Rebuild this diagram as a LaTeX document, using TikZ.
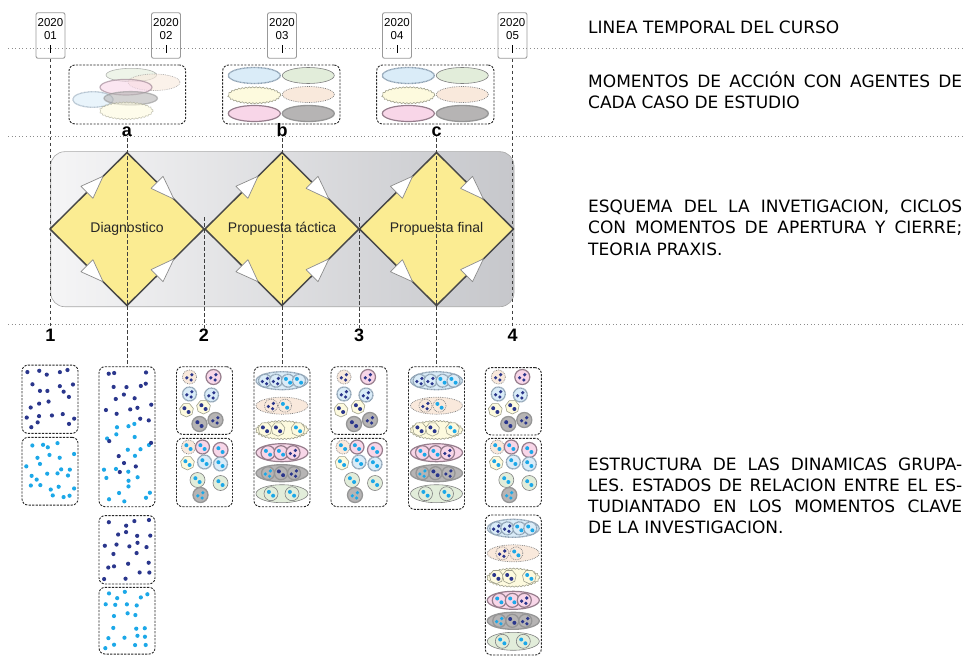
\documentclass[tikz,border=0pt]{standalone}
\usepackage{fontspec}
\setmainfont{Liberation Sans}
\newfontfamily\verd{DejaVu Sans}
\usetikzlibrary{calc,decorations.pathmorphing}

\definecolor{navyD}{RGB}{42,54,140}
\definecolor{cyanD}{RGB}{28,168,232}
\definecolor{dyel}{RGB}{251,236,146}
\definecolor{cblue}{RGB}{218,236,248}
\definecolor{cbluebd}{RGB}{140,160,178}
\definecolor{cgreen}{RGB}{226,237,218}
\definecolor{cyel}{RGB}{253,250,222}
\definecolor{cyelbd}{RGB}{160,160,140}
\definecolor{cpeach}{RGB}{249,233,220}
\definecolor{cpink}{RGB}{248,214,232}
\definecolor{cpinkbd}{RGB}{150,125,140}
\definecolor{cgray}{RGB}{182,180,180}
\definecolor{cgraybd}{RGB}{150,150,150}
\definecolor{bgL}{RGB}{245,245,246}
\definecolor{bgR}{RGB}{198,199,203}

\tikzset{
 sblue/.style={fill=cblue,draw=cbluebd,line width=1.3pt,dash pattern=on 0.9pt off 0.5pt},
 sgreen/.style={fill=cgreen,draw=black!50,line width=0.6pt},
 syel/.style={fill=cyel,draw=cyelbd,line width=0.6pt,decorate,decoration={snake,segment length=3.5pt,amplitude=0.6pt}},
 syelh/.style={fill=cyel,draw=cyelbd,line width=0.6pt,line join=round},
 speach/.style={fill=cpeach,draw=black!50,line width=0.7pt,dash pattern=on 0.8pt off 1pt},
 spink/.style={fill=cpink,draw=cpinkbd,line width=1.2pt},
 sgray/.style={fill=cgray,draw=cgraybd,line width=1.3pt},
 vline/.style={draw=black!75,dash pattern=on 3.5pt off 2.5pt,line width=0.7pt},
 hline/.style={draw=black!45,line width=0.8pt,dash pattern=on 0.8pt off 2.8pt},
 gbox/.style={draw=black!85,dash pattern=on 2.2pt off 1.3pt,line width=0.9pt,rounded corners=6pt,inner sep=0pt,minimum width=56pt},
 mbox/.style={draw=black!85,dash pattern=on 2.2pt off 1.3pt,line width=0.9pt,rounded corners=6pt,inner sep=0pt,minimum height=59pt},
 tbox/.style={draw=black!40,line width=0.9pt,rounded corners=2pt,minimum width=29pt,minimum height=45.5pt,inner sep=0pt},
 ttext/.style={align=center,font=\fontsize{11.5}{13}\selectfont,inner sep=0pt},
 lbl/.style={font=\bfseries\fontsize{18}{18}\selectfont,inner sep=1pt,anchor=base},
 dia/.style={fill=dyel,draw=black!72,line width=1.5pt,line join=round},
 tristyle/.style={fill=white,draw=black!45,line width=0.7pt,line join=round},
 dtext/.style={font=\fontsize{14}{16}\selectfont,text=black!85,inner sep=0pt},
 rtext/.style={font=\verd\fontsize{17}{21}\selectfont,inner sep=0pt,anchor=base west}
}

\newcommand{\mydset}[4]{\ifnum#4=2 \fill[#3] (#1-2.1,#2-1.8) circle (2) (#1+2.1,#2+2) circle (2);\else \fill[#3] (#1-2.7,#2+0.8) circle (1.8) (#1+2.4,#2-2.3) circle (1.8) (#1+1.6,#2+3) circle (1.8);\fi}
\newcommand{\mymc}[6]{\draw[#4] (#1,#2) circle (#3); \mydset{#1}{#2}{#5}{#6}}
\newcommand{\mymh}[5]{\draw[syelh] plot[samples at={0,1,2,3,4,5,6},variable=\k] ({#1+#3*cos(90+51.4286*\k)},{#2+#3*sin(90+51.4286*\k)}) -- cycle; \mydset{#1}{#2}{#4}{#5}}
% jittered grid of dots: x0, y0, ncols, nrows, dx, dy, colour, keep-probability
\newcommand{\myjdots}[8]{\foreach \ci in {1,...,#3}{\foreach \ri in {1,...,#4}{%
 \pgfmathsetmacro{\rxx}{#1+(\ci-0.5)*#5+7*(rnd-0.5)}%
 \pgfmathsetmacro{\ryy}{#2+(\ri-0.5)*#6+7*(rnd-0.5)}%
 \pgfmathsetmacro{\kp}{rnd}%
 \ifdim\kp pt<#8pt \fill[#7] (\rxx,\ryy) circle (2.1);\fi}}}

\newcommand{\mysetE}[1]{%
 \mymc{#1-15}{377}{7}{speach}{navyD}{3}
 \mymc{#1+9}{377}{7.5}{spink}{navyD}{3}
 \mymc{#1-15}{394}{7}{sblue}{navyD}{3}
 \mymc{#1+7}{395}{7}{sblue}{navyD}{3}
 \mymh{#1-18}{410}{7}{navyD}{2}
 \mymh{#1-1}{407}{7}{navyD}{2}
 \mymc{#1-5}{424}{7.5}{sgray}{navyD}{2}
 \mymc{#1+11}{420}{7.5}{sgray}{navyD}{3}}
\newcommand{\mysetF}[1]{%
 \mymc{#1-16}{447}{7}{speach}{cyanD}{2}
 \mymc{#1-2}{447}{7}{spink}{cyanD}{2}
 \mymc{#1+16}{450}{7.5}{spink}{cyanD}{2}
 \mymh{#1-17}{463}{7}{cyanD}{2}
 \mymc{#1}{462}{7}{sblue}{cyanD}{2}
 \mymc{#1+16}{464}{7}{sblue}{cyanD}{2}
 \mymc{#1-7}{480}{7.5}{sgreen}{cyanD}{2}
 \mymc{#1+16}{483}{7.5}{sgreen}{cyanD}{2}
 \mymc{#1-4}{495}{7.5}{sgray}{cyanD}{3}}
\newcommand{\mystack}[2]{%
 \draw[sblue] (#1,#2) ellipse [x radius=26,y radius=9];
 \mymc{#1-17}{#2}{6.5}{sblue}{navyD}{3}
 \mymc{#1-6}{#2}{6.5}{sblue}{navyD}{3}
 \mymc{#1+6}{#2}{6.5}{sblue}{cyanD}{2}
 \mymc{#1+17}{#2}{6.5}{sblue}{cyanD}{2}
 \draw[speach] (#1,#2+25) ellipse [x radius=26,y radius=8.5];
 \mymc{#1-11}{#2+25}{6.5}{speach}{navyD}{3}
 \mymc{#1+3}{#2+25}{6.5}{speach}{cyanD}{2}
 \draw[syel] (#1,#2+48.5) ellipse [x radius=26,y radius=9];
 \mymh{#1-17}{#2+48.5}{7}{navyD}{2}
 \mymh{#1-4}{#2+48.5}{7}{navyD}{2}
 \mymh{#1+16}{#2+48.5}{7}{cyanD}{2}
 \draw[spink] (#1,#2+72) ellipse [x radius=26,y radius=9];
 \mymc{#1-14}{#2+72}{7}{spink}{cyanD}{2}
 \mymc{#1-1}{#2+72}{7}{spink}{cyanD}{2}
 \mymc{#1+11}{#2+72}{7}{spink}{navyD}{3}
 \draw[sgray] (#1,#2+92.5) ellipse [x radius=26,y radius=8.5];
 \mymc{#1-14}{#2+92.5}{6.5}{sgray}{cyanD}{3}
 \mymc{#1-1}{#2+92.5}{6.5}{sgray}{navyD}{2}
 \mymc{#1+12}{#2+92.5}{6.5}{sgray}{navyD}{3}
 \draw[sgreen] (#1,#2+113) ellipse [x radius=26,y radius=9];
 \mymc{#1-11}{#2+113}{7}{sgreen}{cyanD}{2}
 \mymc{#1+10}{#2+113}{7}{sgreen}{cyanD}{2}}
\newcommand{\mygrid}[1]{%
 \draw[sblue] (#1-27,75.5) ellipse [x radius=26,y radius=8];
 \draw[sgreen] (#1+27,75.5) ellipse [x radius=26,y radius=8];
 \draw[syel] (#1-27,94.5) ellipse [x radius=26,y radius=8];
 \draw[speach] (#1+27,94.5) ellipse [x radius=26,y radius=8];
 \draw[spink] (#1-27,113.5) ellipse [x radius=26,y radius=8];
 \draw[sgray] (#1+27,113.5) ellipse [x radius=26,y radius=8];}
\newcommand{\mytri}[4]{%
 \coordinate (bm) at ($(#1)!#3!(#2)$);
 \coordinate (tp) at ($(#1)!#4!(#2)$);
 \draw[tristyle] (tp) -- ($(bm)!8.5pt!90:(tp)$) -- ($(bm)!8.5pt!-90:(tp)$) -- cycle;}

\begin{document}
\begin{tikzpicture}[x=1pt,y=-1pt]
\useasboundingbox (0,0) rectangle (965,663);

% horizontal dotted separators
\coordinate (h1l) at (8,48.3); \coordinate (h1r) at (965,48.3);
\coordinate (h2l) at (8,136.7); \coordinate (h2r) at (965,136.7);
\coordinate (h3l) at (8,324.5); \coordinate (h3r) at (965,324.5);
\draw[hline] (h1l) -- (h1r);
\draw[hline] (h2l) -- (h2r);
\draw[hline] (h3l) -- (h3r);

% timeline
\foreach \i/\x/\m in {1/50.5/01,2/166/02,3/282/03,4/397/04,5/512.5/05}{
 \node[tbox] (t\i) at (\x,35.5) {};
 \node[ttext] (tt\i) at (\x,28.8) {2020\\\m};
 \draw[line width=0.8pt] ($(t\i.south)+(0,-5.75)$) -- ($(t\i.south)+(0,-13.75)$);
}

% momentos boxes
\node[mbox,minimum width=116.7pt] (ma) at (127.3,94.5) {};
\node[mbox,minimum width=117.3pt] (mb) at (281.3,94.5) {};
\node[mbox,minimum width=117.3pt] (mc) at (435.3,94.5) {};
\begin{scope}[fill opacity=0.6,draw opacity=0.6]
 \draw[sgreen] (131.3,75) ellipse [x radius=25.3,y radius=6.7];
 \draw[speach] (154,82.3) ellipse [x radius=26,y radius=8.3];
 \draw[spink] (126,87.2) ellipse [x radius=26,y radius=7.8];
 \draw[sblue] (93,99.5) ellipse [x radius=20.3,y radius=7.8];
 \draw[sgray] (130.7,98.3) ellipse [x radius=26.7,y radius=6.7];
 \draw[syel] (126.3,110) ellipse [x radius=26.3,y radius=8.3];
\end{scope}
\mygrid{281.3}
\mygrid{435.3}

% labels
\node[lbl] (la) at (127,136.7) {a};
\node[lbl] (lb) at (282,136.7) {b};
\node[lbl] (lc) at (436.5,136.7) {c};

% background panel
\shade[rounded corners=14pt,left color=bgL,right color=bgR] (50.7,151.7) rectangle (514,306.7);
\draw[rounded corners=14pt,draw=black!35,line width=0.6pt] (50.7,151.7) rectangle (514,306.7);

% diamonds
\foreach \i/\cx/\txt in {1/127/Diagnostico,2/282/Propuesta táctica,3/436.5/Propuesta final}{
 \coordinate (L\i) at (\cx-77,229);
 \coordinate (T\i) at (\cx,152.5);
 \coordinate (R\i) at (\cx+77,229);
 \coordinate (B\i) at (\cx,305.5);
 \draw[dia] (L\i) -- (T\i) -- (R\i) -- (B\i) -- cycle;
 \mytri{L\i}{T\i}{0.48}{0.69}
 \mytri{L\i}{B\i}{0.48}{0.69}
 \mytri{T\i}{R\i}{0.39}{0.61}
 \mytri{B\i}{R\i}{0.39}{0.61}
 \node[dtext] (d\i) at (\cx,228.5) {\txt};
}

% numbers
\node[lbl] (n1) at (50.5,341.7) {1};
\node[lbl] (n2) at (204,341.7) {2};
\node[lbl] (n3) at (359,341.7) {3};
\node[lbl] (n4) at (512.5,341.7) {4};

% group boxes
\node[gbox,minimum height=68.3pt] (g1a) at (50,399.2) {};
\node[gbox,minimum height=67.7pt] (g1b) at (50,471.2) {};
\node[gbox,minimum height=140pt] (g2a) at (127,436.7) {};
\node[gbox,minimum height=68.3pt] (g2b) at (127,549.8) {};
\node[gbox,minimum height=66.7pt] (g2c) at (127,620.7) {};
\node[gbox,minimum height=67.6pt] (g3a) at (204.5,400.5) {};
\node[gbox,minimum height=68.4pt] (g3b) at (204.5,472.5) {};
\node[gbox,minimum height=140pt] (g4) at (282,436.7) {};
\node[gbox,minimum height=67.6pt] (g5a) at (359,400.5) {};
\node[gbox,minimum height=68.4pt] (g5b) at (359,472.5) {};
\node[gbox,minimum height=142.6pt] (g6) at (436.5,438) {};
\node[gbox,minimum height=67.3pt] (g7a) at (513.3,401.3) {};
\node[gbox,minimum height=68.4pt] (g7b) at (513.3,472.5) {};
\node[gbox,minimum height=140pt] (g7c) at (513.3,585) {};

% vertical dashed connectors
\coordinate (s2) at (204,217);
\coordinate (s3) at (359,217);
\draw[vline] (t1.south) -- (n1.north);
\draw[vline] (t5.south) -- (n4.north);
\draw[vline] (s2) -- (n2.north);
\draw[vline] (s3) -- (n3.north);
\draw[vline] (la.south) -- (g2a.north);
\draw[vline] (lb.south) -- (g4.north);
\draw[vline] (lc.south) -- (g6.north);

% dots
\pgfmathsetseed{42}
\myjdots{24}{368}{5}{6}{10.4}{10.5}{navyD}{0.8}
\myjdots{24}{440}{5}{6}{10.4}{10.5}{cyanD}{0.85}
\myjdots{101}{370}{5}{5}{10.4}{10.5}{navyD}{0.8}
\myjdots{101}{422}{5}{8}{10.4}{10.4}{cyanD}{0.6}
\myjdots{101}{427}{5}{7}{10.4}{10.4}{navyD}{0.12}
\myjdots{101}{518}{5}{6}{10.4}{10.5}{navyD}{0.8}
\myjdots{101}{590}{5}{6}{10.4}{10.3}{cyanD}{0.85}

% member sets
\mysetE{204.5}
\mysetF{204.5}
\mysetE{359}
\mysetF{359}
\mysetE{513.3}
\mysetF{513.3}
\mystack{282}{380.7}
\mystack{436.5}{380.7}
\mystack{513.3}{528.3}

% right-hand texts
\node[rtext] (r1) at (588,33.3) {LINEA TEMPORAL DEL CURSO};
\node[rtext] (r2) at (588,87.3) {\makebox[374pt][s]{MOMENTOS DE ACCIÓN CON AGENTES DE}};
\node[rtext] (r3) at (588,108.8) {CADA CASO DE ESTUDIO};
\node[rtext] (r4) at (588,212.3) {\makebox[374pt][s]{ESQUEMA DEL LA INVETIGACION, CICLOS}};
\node[rtext] (r5) at (588,233.8) {\makebox[374pt][s]{CON MOMENTOS DE APERTURA Y CIERRE;}};
\node[rtext] (r6) at (588,255.3) {TEORIA PRAXIS.};
\node[rtext] (r7) at (588,470) {\makebox[374pt][s]{ESTRUCTURA DE LAS DINAMICAS GRUPA-}};
\node[rtext] (r8) at (588,491) {\makebox[374pt][s]{LES. ESTADOS DE RELACION ENTRE EL ES-}};
\node[rtext] (r9) at (588,512) {\makebox[374pt][s]{TUDIANTADO EN LOS MOMENTOS CLAVE}};
\node[rtext] (r10) at (588,533) {DE LA INVESTIGACION.};
\end{tikzpicture}
\end{document}
